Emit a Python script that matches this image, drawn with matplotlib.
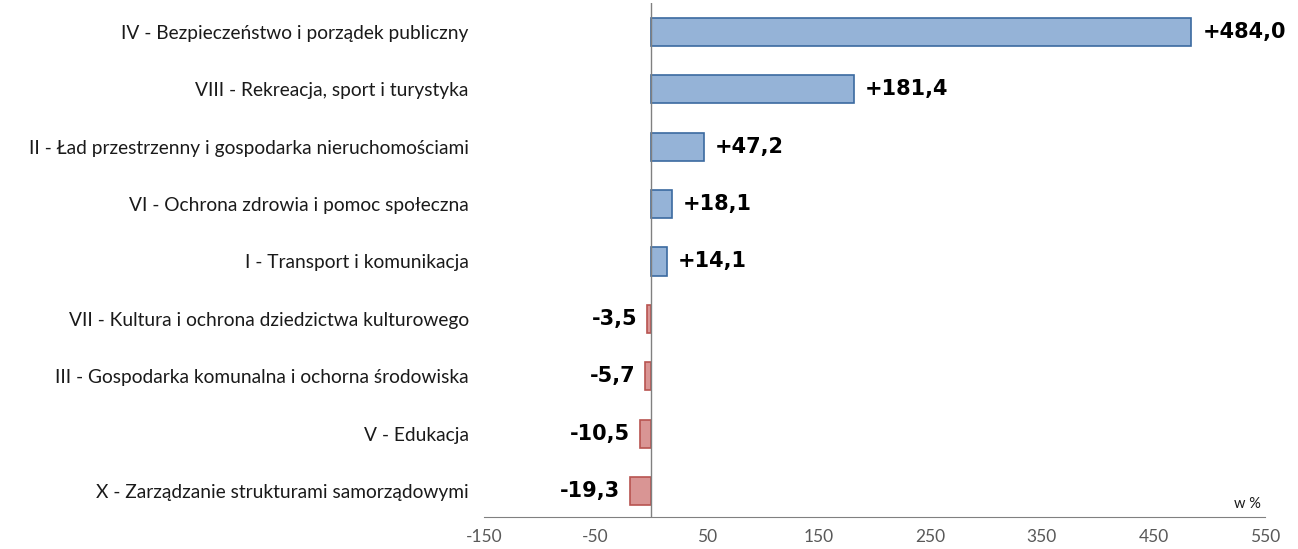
import numpy as np
import matplotlib.pyplot as plt

# Change by budget section, in %
categories = [
    "IV - Bezpieczeństwo i porządek publiczny",
    "VIII - Rekreacja, sport i turystyka",
    "II - Ład przestrzenny i gospodarka nieruchomościami",
    "VI - Ochrona zdrowia i pomoc społeczna",
    "I - Transport i komunikacja",
    "VII - Kultura i ochrona dziedzictwa kulturowego",
    "III - Gospodarka komunalna i ochorna środowiska",
    "V - Edukacja",
    "X - Zarządzanie strukturami samorządowymi",
]
values = [484.0, 181.4, 47.2, 18.1, 14.1, -3.5, -5.7, -10.5, -19.3]
xticks = [-150, -50, 50, 150, 250, 350, 450, 550]

fig = plt.figure(figsize=(12.98, 5.49), dpi=100)
ax = fig.add_axes([0.3729, 0.0583, 0.6017, 0.9362])

y = np.arange(len(values))
fills = ["#95B3D7" if v >= 0 else "#D99594" for v in values]
edges = ["#3B6AA0" if v >= 0 else "#B85450" for v in values]
ax.barh(y, values, height=0.49, color=fills, edgecolor=edges, linewidth=1.2, zorder=2)

for yi, v in zip(y, values):
    txt = f"{v:+.1f}".replace(".", ",")
    if v >= 0:
        ax.annotate(txt, (v, yi), xytext=(8, 0), textcoords="offset points",
                    ha="left", va="center", fontsize=15, fontweight="bold",
                    family="DejaVu Sans")
    else:
        ax.annotate(txt, (v, yi), xytext=(-7, 0), textcoords="offset points",
                    ha="right", va="center", fontsize=15, fontweight="bold",
                    family="DejaVu Sans")

ax.axvline(0, color="#808080", linewidth=1.0, zorder=3)
ax.set_xlim(-150, 550)
ax.set_ylim(len(values) - 0.55, -0.5)
ax.set_xticks(xticks)
ax.set_xticklabels([str(t) for t in xticks], fontsize=12.5, color="#595959", family="Lato")
ax.set_yticks(y)
ax.set_yticklabels(categories, fontsize=13.8, color="#1a1a1a", family="Lato")
ax.tick_params(axis="both", length=0)
ax.tick_params(axis="x", pad=9)
ax.tick_params(axis="y", pad=11)
for s in ["top", "right", "left"]:
    ax.spines[s].set_visible(False)
ax.spines["bottom"].set_color("#808080")

ax.text(0.977, 0.012, "w %", transform=ax.transAxes, ha="center", va="bottom",
        fontsize=10.5, family="Lato", color="#1a1a1a")

fig.savefig("out.png", dpi=100)
